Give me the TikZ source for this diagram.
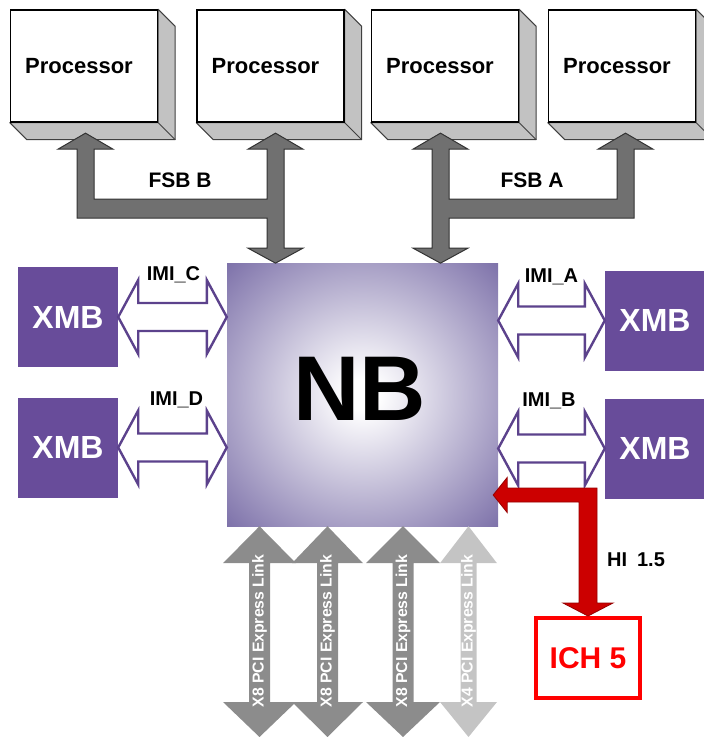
\documentclass[tikz,border=0pt]{standalone}
\usepackage{fontspec}
\setmainfont{Liberation Sans}
\usetikzlibrary{calc,backgrounds}
\definecolor{nbEdge}{RGB}{123,111,168}
\definecolor{xmbPurple}{RGB}{104,76,154}
\definecolor{imiPurple}{RGB}{92,66,140}
\definecolor{fsbGray}{RGB}{112,112,112}
\definecolor{pciGray}{RGB}{140,140,140}
\definecolor{pciLight}{RGB}{196,196,196}
\definecolor{sideGray}{RGB}{194,194,194}
\definecolor{hiRed}{RGB}{204,0,0}
\definecolor{hiDark}{RGB}{150,0,0}
\definecolor{ichRed}{RGB}{255,0,0}
\pgfdeclareradialshading{nbglow}{\pgfpointorigin}{color(0bp)=(white); color(3bp)=(white); color(36bp)=(nbEdge); color(50bp)=(nbEdge)}

\begin{document}
\begin{tikzpicture}[
  x=1pt, y=-1pt,
  font=\bfseries,
  cpu/.style={draw, line width=1.3pt, fill=white, minimum width=147pt, minimum height=112pt, inner sep=0pt, font=\fontsize{22}{24}\selectfont\bfseries},
  side/.style={fill=sideGray, draw=black!75, line width=1pt, line join=round},
  xmb/.style={fill=xmbPurple, text=white, minimum width=100pt, minimum height=100pt, inner sep=0pt, font=\fontsize{32}{36}\selectfont\bfseries},
  imi/.style={draw=imiPurple, fill=white, line width=2.4pt, line join=miter},
  fsb/.style={fill=fsbGray, draw=black!80, line width=1pt},
  buslabel/.style={font=\fontsize{21}{24}\selectfont\bfseries},
  imilabel/.style={anchor=base, font=\fontsize{20}{22}\selectfont\bfseries},
  pcilabel/.style={rotate=90, text=white, inner sep=0pt, font=\fontsize{15.8}{17}\selectfont\bfseries},
  hi/.style={fill=hiRed, draw=hiDark, line width=0.8pt, line join=miter}
]
\useasboundingbox (0,0) rectangle (704,737);

% processors
\node[cpu] (cpu1) at (84,66) {Processor\hspace*{10pt}};
\node[cpu] (cpu2) at (270.5,66) {Processor\hspace*{10pt}};
\node[cpu] (cpu3) at (445,66) {Processor\hspace*{10pt}};
\node[cpu] (cpu4) at (622,66) {Processor\hspace*{10pt}};
\begin{scope}[on background layer]
\foreach \c in {cpu1,cpu2,cpu3,cpu4}{
  \filldraw[side] (\c.north east) -- ++(17,17) -- ($(\c.south east)+(17,17)$) -- ($(\c.south west)+(17,17)$) -- (\c.south west) -- (\c.south east) -- cycle;
  \draw[side] (\c.south east) -- ++(17,17);
}
\end{scope}

% north bridge and memory
\node[minimum width=271pt, minimum height=263pt, inner sep=0pt, shading=nbglow, text depth=12pt, font=\fontsize{92}{96}\selectfont\bfseries] (nb) at (362.5,394.5) {NB\hspace*{5pt}};
\node[xmb] (xmbC) at (68,317) {XMB};
\node[xmb] (xmbD) at (68,447.5) {XMB};
\node[xmb] (xmbA) at (655,320.5) {XMB};
\node[xmb] (xmbB) at (655,448.5) {XMB};
\node[draw=ichRed, line width=4pt, text=ichRed, minimum width=104pt, minimum height=80pt, font=\fontsize{30}{34}\selectfont\bfseries] (ich) at (588,658) {ICH 5};

% front side buses
\draw[fsb] ($(cpu1.south)+(1.5,10.5)$) -- ++(27.5,16) -- ++(-19,0) -- ++(0,50) -- ++(173,0) -- ++(0,-50) -- ++(-19,0) -- ++(27.5,-16) -- ++(27.5,16) -- ++(-19,0) -- ++(0,99) -- ++(19,0) -- ++(-27.5,15) -- ++(-27.5,-15) -- ++(19,0) -- ++(0,-30) -- ++(-190,0) -- ++(0,-69) -- ++(-19,0) -- cycle;
\draw[fsb] ($(cpu3.south)+(-4.5,10.5)$) -- ++(27.5,16) -- ++(-19,0) -- ++(0,50) -- ++(168,0) -- ++(0,-50) -- ++(-19,0) -- ++(27.5,-16) -- ++(27.5,16) -- ++(-19,0) -- ++(0,69) -- ++(-185,0) -- ++(0,30) -- ++(19,0) -- ++(-27.5,15) -- ++(-27.5,-15) -- ++(19,0) -- ++(0,-99) -- ++(-19,0) -- cycle;

% memory links
\coordinate (imiCl) at (xmbC.east);
\coordinate (imiCr) at (xmbC.east -| nb.west);
\coordinate (imiDl) at (xmbD.east);
\coordinate (imiDr) at (xmbD.east -| nb.west);
\coordinate (imiAl) at (xmbA.west -| nb.east);
\coordinate (imiAr) at (xmbA.west);
\coordinate (imiBl) at (xmbB.west -| nb.east);
\coordinate (imiBr) at (xmbB.west);
\foreach \l/\r in {imiCl/imiCr,imiDl/imiDr,imiAl/imiAr,imiBl/imiBr}
  \draw[imi] (\l) -- ++(20,-37) -- ++(0,23) -- ($(\r)+(-20,-14)$) -- ++(0,-23) -- (\r) -- ++(-20,37) -- ++(0,-23) -- ($(\l)+(20,14)$) -- ++(0,23) -- cycle;

% pci express links
\coordinate (pciA) at (259.5,631);
\coordinate (pciB) at (327.5,631);
\coordinate (pciC) at (403,631);
\coordinate (pciD) at (468.5,631);
\coordinate (floor) at (0,737);
\foreach \p/\h/\s/\col in {pciA/36.5/10.5/pciGray,pciB/35.5/10.5/pciGray,pciC/37/10.5/pciGray,pciD/28.5/8/pciLight}
  \fill[\col] (\p |- nb.south) -- ++(\h,37) -- ++({\s-\h},0) -- ($(\p |- floor)+(\s,-35)$) -- ++({\h-\s},0) -- (\p |- floor) -- ++(-\h,-35) -- ++({\h-\s},0) -- ($(\p |- nb.south)+(-\s,37)$) -- ++({\s-\h},0) -- cycle;

% hub interface
\coordinate (hiBend) at ($(ich.north)+(0,-121)$);
\draw[hi] ($(hiBend -| nb.east)+(-5,0)$) -- ++(14,-17.5) -- ++(0,10.5) -- ($(hiBend)+(9,-7)$) -- ($(ich.north)+(9,-13)$) -- ++(16,0) -- (ich.north) -- ++(-25,-13) -- ++(16,0) -- ($(hiBend)+(-9,7)$) -- ($(hiBend -| nb.east)+(9,7)$) -- ++(0,10.5) -- cycle;

% labels
\node[buslabel] (fsbBlbl) at (180,180) {FSB B};
\node[buslabel] (fsbAlbl) at (532,180) {FSB A};
\node[imilabel] (imiClbl) at (173.5,280) {IMI\_C};
\node[imilabel] (imiDlbl) at (176.5,405) {IMI\_D};
\node[imilabel] (imiAlbl) at (551.5,282) {IMI\_A};
\node[imilabel] (imiBlbl) at (549,406) {IMI\_B};
\node[pcilabel] (pciAtxt) at (pciA) {X8 PCI Express Link};
\node[pcilabel] (pciBtxt) at (pciB) {X8 PCI Express Link};
\node[pcilabel] (pciCtxt) at (pciC) {X8 PCI Express Link};
\node[pcilabel] (pciDtxt) at (pciD) {X4 PCI Express Link};
\node[font=\fontsize{20}{22}\selectfont\bfseries] (hilbl) at (636,560) {HI\enspace1.5};
\end{tikzpicture}
\end{document}
